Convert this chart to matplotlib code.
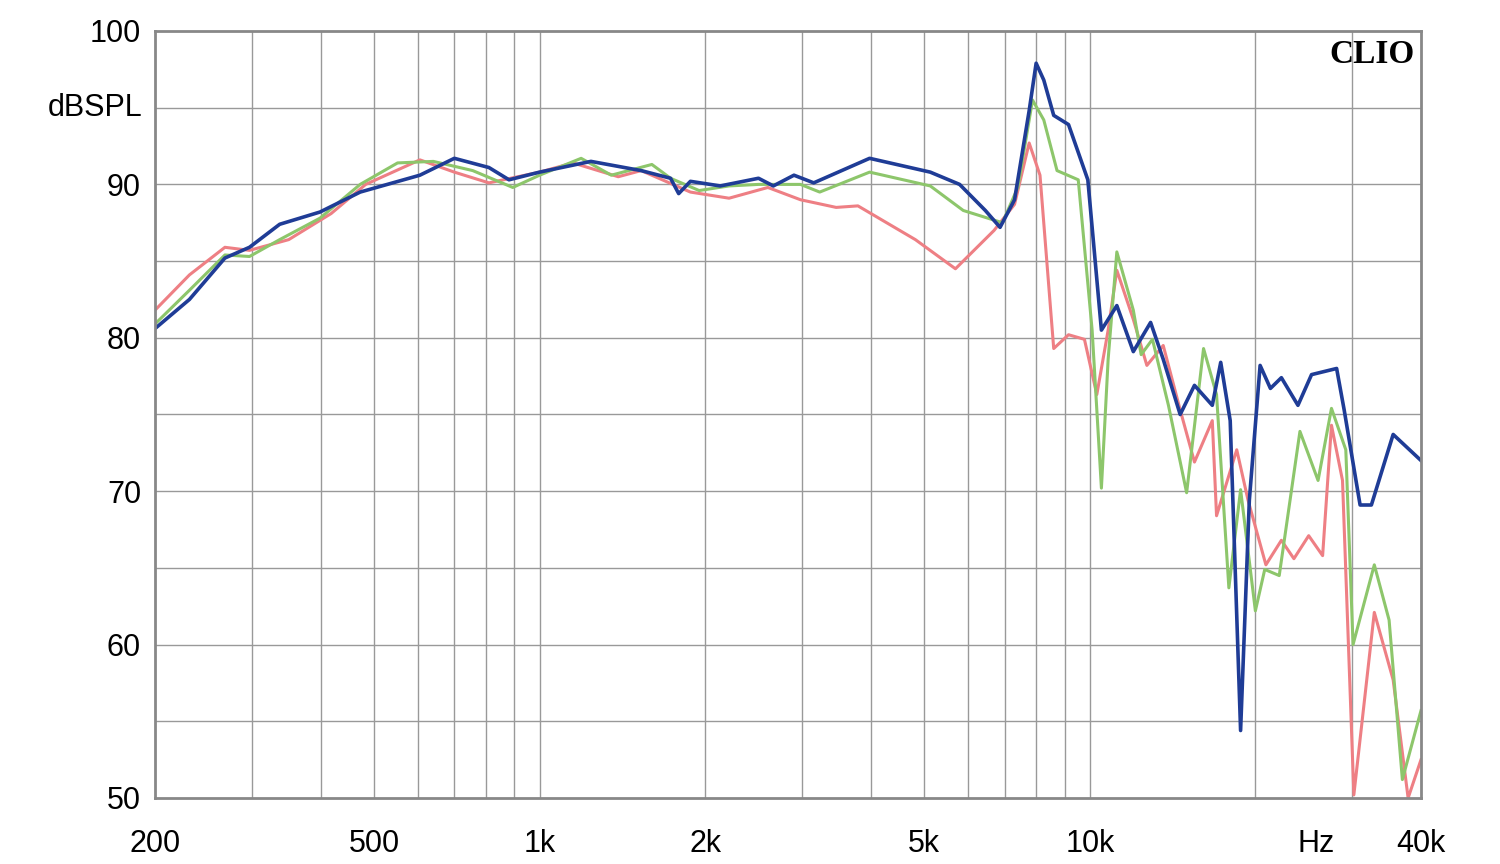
import matplotlib
matplotlib.use("Agg")
import matplotlib.pyplot as plt
from matplotlib.ticker import FixedLocator, NullLocator

plt.rcParams['font.family'] = ['Liberation Sans', 'DejaVu Sans']

blue_f = [200,231,268,297,337,399,472,606,700,809,880,1000,1240,1530,1730,1790,1880,2130,2500,2660,2900,3150,3980,5130,5800,6460,6870,7300,7760,7990,8250,8600,9150,9920,10500,11200,12000,12900,13600,14600,15500,16700,17300,18000,18800,19500,20400,21300,22300,23900,25300,28100,29000,31000,32500,35600,40000]
blue_db = [80.6,82.5,85.2,85.9,87.4,88.2,89.5,90.6,91.7,91.1,90.3,90.8,91.5,90.9,90.4,89.4,90.2,89.9,90.4,89.9,90.6,90.1,91.7,90.8,90.0,88.3,87.2,89.0,94.8,97.9,96.8,94.5,93.9,90.3,80.5,82.1,79.1,81.0,78.6,75.0,76.9,75.6,78.4,74.6,54.4,69.4,78.2,76.7,77.4,75.6,77.6,78.0,75.3,69.1,69.1,73.7,72.0]

green_f = [200,231,268,297,337,399,472,552,641,756,894,1000,1190,1350,1600,1730,1950,2210,2500,2980,3230,3980,5130,5890,6940,7400,7870,8250,8720,9530,10100,10500,10800,11200,12000,12400,13000,13900,15000,16100,17000,17900,18800,20000,20800,22100,24100,26000,27500,29200,30100,32900,35000,37000,40000]
green_db = [80.9,83.1,85.4,85.3,86.4,87.8,90.0,91.4,91.5,90.9,89.8,90.6,91.7,90.6,91.3,90.4,89.6,89.9,90.0,90.0,89.5,90.8,89.9,88.3,87.5,89.8,95.5,94.2,90.9,90.3,80.5,70.2,78.6,85.6,81.8,78.9,79.9,75.6,69.9,79.3,76.3,63.7,70.1,62.2,64.9,64.5,73.9,70.7,75.4,72.7,60.0,65.2,61.6,51.2,55.7]

red_f = [200,231,268,297,350,418,483,606,700,809,1000,1150,1390,1530,1880,2210,2600,2980,3460,3790,4820,5700,6700,7300,7760,8120,8600,9150,9780,10300,10800,11200,12000,12700,13600,14600,15500,16700,17000,18500,19400,20900,22300,23500,25000,26500,27500,28800,30200,32900,35600,37900,40000]
red_db = [81.8,84.1,85.9,85.7,86.4,88.1,90.0,91.6,90.8,90.1,90.8,91.4,90.5,90.9,89.5,89.1,89.8,89.0,88.5,88.6,86.4,84.5,87.0,88.7,92.7,90.6,79.3,80.2,79.9,76.3,80.5,84.4,81.2,78.2,79.5,75.3,71.9,74.6,68.4,72.7,69.4,65.2,66.8,65.6,67.1,65.8,74.3,70.7,50.2,62.1,57.7,50.0,52.5]

x_ticks = [200, 500, 1000, 2000, 5000, 10000, 25800, 40000]
x_labels = ["200", "500", "1k", "2k", "5k", "10k", "Hz", "40k"]
y_ticks = [50, 60, 70, 80, 90, 100]

fig = plt.figure(figsize=(15, 8.64), dpi=100)
ax = fig.add_axes([155/1500, 66/864, 1266/1500, 767/864])
ax.set_xscale("log")
ax.set_xlim(200, 40000)
ax.set_ylim(50, 100)

ax.plot(red_f, red_db, color="#ee7f84", lw=2.2)
ax.plot(green_f, green_db, color="#8dc66b", lw=2.2)
ax.plot(blue_f, blue_db, color="#1f3c96", lw=2.6)

grid_x = [300,400,500,600,700,800,900,1000,2000,3000,4000,5000,6000,7000,8000,9000,10000,20000,30000]
for gx in grid_x:
    ax.axvline(gx, color="#999999", lw=1.0, zorder=0)
for gy in range(55, 100, 5):
    ax.axhline(gy, color="#999999", lw=1.0, zorder=0)

ax.xaxis.set_major_locator(FixedLocator(x_ticks))
ax.xaxis.set_minor_locator(NullLocator())
ax.set_xticklabels(x_labels)
ax.set_yticks(y_ticks)
ax.tick_params(length=0, labelsize=22, pad=10)
ax.tick_params(axis="x", pad=22)
for s in ax.spines.values():
    s.set_color("#888888")
    s.set_linewidth(2)

ax.text(-0.01, 95, "dBSPL", transform=ax.get_yaxis_transform(), fontsize=22, ha="right", va="center")
ax.text(0.995, 0.99, "CLIO", transform=ax.transAxes, fontsize=24, fontweight="bold",
        family="Liberation Serif", ha="right", va="top")

fig.savefig("out.png")
